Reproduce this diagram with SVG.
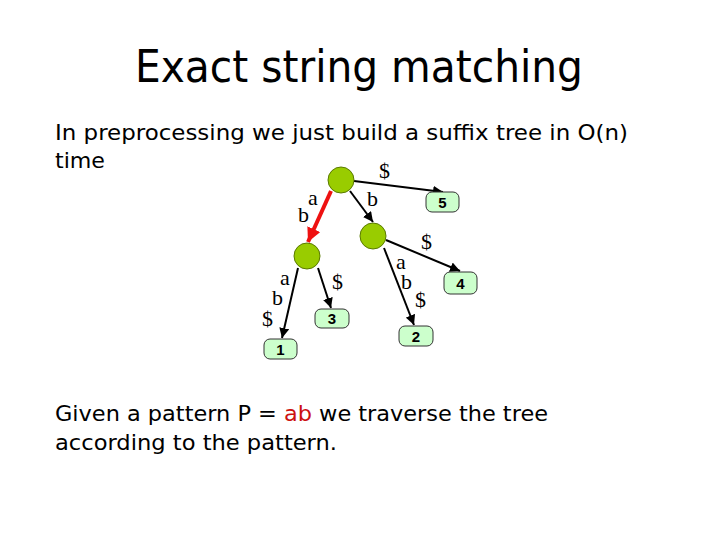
<svg xmlns="http://www.w3.org/2000/svg" width="720" height="540" viewBox="0 0 720 540">
<style>
.title{font-family:"Comic Sans MS","DejaVu Sans",sans-serif;font-size:44px;fill:#000}
.body{font-family:"Comic Sans MS","DejaVu Sans",sans-serif;font-size:22px;fill:#000}
.lab{font-family:"Liberation Serif",serif;font-size:22px;fill:#000}
.node{fill:#99cc00;stroke:#5a7a00;stroke-width:1}
.leaf rect{fill:#ccffcc;stroke:#333;stroke-width:1}
.leaf text{font-family:"Liberation Sans",Arial,sans-serif;font-size:15px;font-weight:bold;text-anchor:middle;fill:#000}
.edge{stroke:#000;stroke-width:2;fill:none;marker-end:url(#ah)}
.red{stroke:#ee1111;stroke-width:4;fill:none;marker-end:url(#ahr)}
</style>
<defs>
<marker id="ah" viewBox="0 0 10 10" refX="10" refY="5" markerWidth="5" markerHeight="5" orient="auto" markerUnits="strokeWidth"><path d="M0,0 L10,5 L0,10 z" fill="#000"/></marker>
<marker id="ahr" viewBox="0 0 10 10" refX="10" refY="5" markerWidth="3.5" markerHeight="3.5" orient="auto" markerUnits="strokeWidth"><path d="M0,0 L10,5 L0,10 z" fill="#ee1111"/></marker>
</defs>
<rect width="720" height="540" fill="#fff"/>
<text class="title" x="359" y="82" text-anchor="middle" textLength="448" lengthAdjust="spacingAndGlyphs">Exact string matching</text>
<text class="body" x="55" y="140" textLength="573" lengthAdjust="spacingAndGlyphs">In preprocessing we just build a suffix tree in O(n)</text>
<text class="body" x="55" y="168" textLength="50" lengthAdjust="spacingAndGlyphs">time</text>
<text class="body" x="55" y="421" textLength="493" lengthAdjust="spacingAndGlyphs">Given a pattern P =  <tspan fill="#cc1111">ab</tspan> we traverse the tree</text>
<text class="body" x="55" y="450" textLength="282" lengthAdjust="spacingAndGlyphs">according to the pattern.</text>
<g id="connectors">
<line class="edge" x1="354" y1="181" x2="443" y2="192"/>
<line class="edge" x1="350" y1="191" x2="373" y2="222"/>
<line class="red" x1="331" y1="191" x2="308" y2="242"/>
<line class="edge" x1="298" y1="268" x2="282" y2="338"/>
<line class="edge" x1="318" y1="268" x2="331" y2="308"/>
<line class="edge" x1="384" y1="248" x2="414" y2="325"/>
<line class="edge" x1="386" y1="240" x2="460" y2="271"/>
</g>
<g id="edge-labels">
<text class="lab" x="379" y="178">$</text>
<text class="lab" x="308" y="205">a</text>
<text class="lab" x="298" y="222">b</text>
<text class="lab" x="367" y="206">b</text>
<text class="lab" x="421" y="249">$</text>
<text class="lab" x="396" y="269">a</text>
<text class="lab" x="401" y="289">b</text>
<text class="lab" x="415" y="307">$</text>
<text class="lab" x="280" y="285">a</text>
<text class="lab" x="272" y="305">b</text>
<text class="lab" x="262" y="326">$</text>
<text class="lab" x="332" y="289">$</text>
</g>
<g id="root"><circle class="node" cx="341" cy="180" r="13"/></g>
<g id="n-b"><circle class="node" cx="373" cy="236" r="13"/></g>
<g id="n-ab"><circle class="node" cx="307" cy="256" r="13"/></g>
<g id="leaf5" class="leaf"><rect x="426" y="192" width="33" height="20" rx="6"/><text x="442.5" y="208">5</text></g>
<g id="leaf4" class="leaf"><rect x="444" y="272" width="33" height="22" rx="6"/><text x="460.5" y="288.5">4</text></g>
<g id="leaf2" class="leaf"><rect x="399" y="326" width="34" height="20" rx="6"/><text x="416" y="341.5">2</text></g>
<g id="leaf3" class="leaf"><rect x="315" y="309" width="34" height="19" rx="6"/><text x="332" y="324">3</text></g>
<g id="leaf1" class="leaf"><rect x="264" y="339" width="33" height="20" rx="6"/><text x="280.5" y="354.5">1</text></g>
</svg>
